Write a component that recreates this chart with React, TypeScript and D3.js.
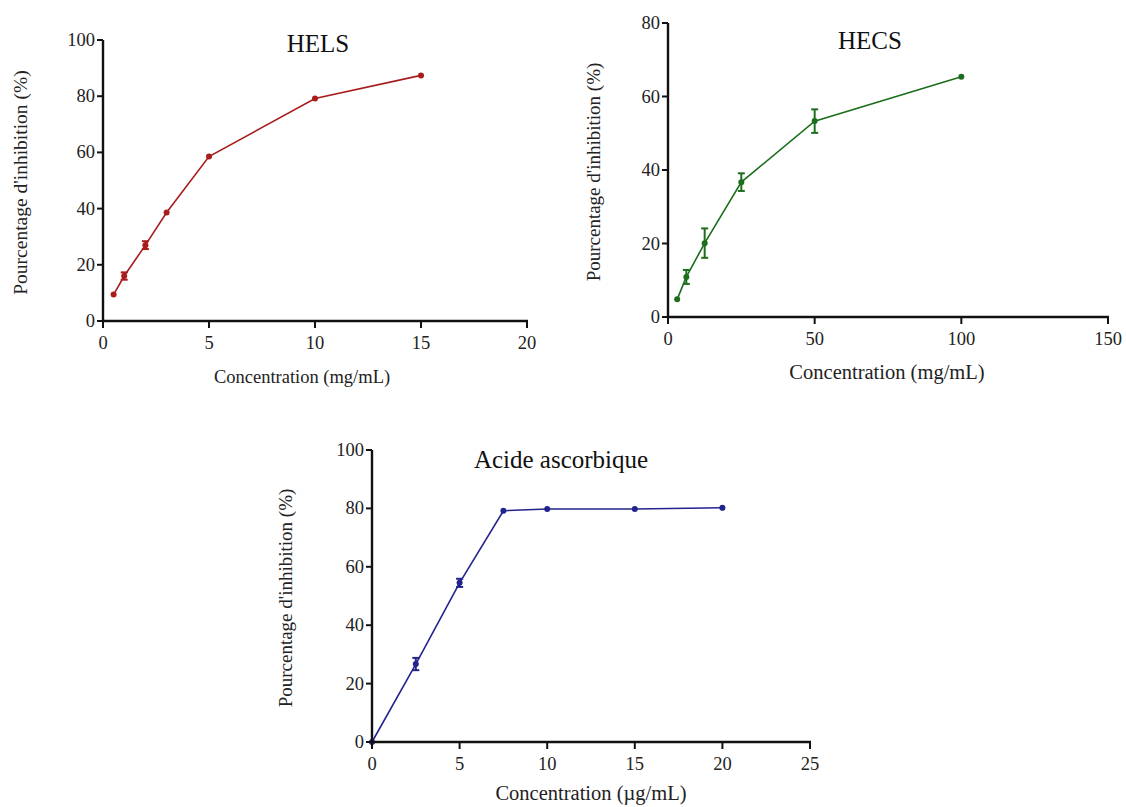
import React from "react";
import * as d3 from "d3";

// ---- data ----
const helsX = [0.5, 1, 2, 3, 5, 10, 15];
const helsY = [9.4, 16.0, 27.0, 38.6, 58.5, 79.2, 87.4];
const helsErr = [0, 1.3, 1.4, 0, 0, 0, 0];

const hecsX = [3.125, 6.25, 12.5, 25, 50, 100];
const hecsY = [4.8, 10.9, 20.1, 36.7, 53.3, 65.4];
const hecsErr = [0, 1.9, 4.0, 2.4, 3.2, 0];

const aaX = [0, 2.5, 5, 7.5, 10, 15, 20];
const aaY = [0, 26.7, 54.5, 79.2, 79.8, 79.8, 80.2];
const aaErr = [0, 2.1, 1.4, 0, 0, 0, 0];

const helsXTicks = [0, 5, 10, 15, 20];
const hecsXTicks = [0, 50, 100, 150];
const aaXTicks = [0, 5, 10, 15, 20, 25];
const pctTicks100 = [0, 20, 40, 60, 80, 100];
const pctTicks80 = [0, 20, 40, 60, 80];

const yTitle = "Pourcentage d'inhibition (%)";
const mgTitle = "Concentration (mg/mL)";
const ugTitle = "Concentration (µg/mL)";

const FONT = "'Liberation Serif', 'Times New Roman', serif";

type PanelProps = {
  title: string;
  xs: number[];
  ys: number[];
  errs: number[];
  xTicks: number[];
  yTicks: number[];
  xTitle: string;
  color: string;
  left: number;
  right: number;
  top: number;
  bottom: number;
  titleX: number;
  titleY: number;
  yTitleX: number;
  xTitleX: number;
  xTitleY: number;
  xTitleSize: number;
  yTitleSize: number;
};

function Panel(p: PanelProps) {
  const x = d3
    .scaleLinear()
    .domain([p.xTicks[0], p.xTicks[p.xTicks.length - 1]])
    .range([p.left, p.right]);
  const y = d3
    .scaleLinear()
    .domain([p.yTicks[0], p.yTicks[p.yTicks.length - 1]])
    .range([p.bottom, p.top]);
  const pts = p.xs.map((v, i) => [v, p.ys[i]] as [number, number]);
  const line = d3
    .line<[number, number]>()
    .x((d) => x(d[0]))
    .y((d) => y(d[1]));
  const axisColor = "#111";
  return (
    <g>
      <path d={line(pts) || ""} fill="none" stroke={p.color} strokeWidth={1.6} />
      {pts.map((d, i) =>
        p.errs[i] > 0 ? (
          <g key={"e" + i} stroke={p.color} strokeWidth={2}>
            <line x1={x(d[0])} x2={x(d[0])} y1={y(d[1] - p.errs[i])} y2={y(d[1] + p.errs[i])} />
            <line x1={x(d[0]) - 3.5} x2={x(d[0]) + 3.5} y1={y(d[1] - p.errs[i])} y2={y(d[1] - p.errs[i])} />
            <line x1={x(d[0]) - 3.5} x2={x(d[0]) + 3.5} y1={y(d[1] + p.errs[i])} y2={y(d[1] + p.errs[i])} />
          </g>
        ) : null
      )}
      {pts.map((d, i) => (
        <circle key={"c" + i} cx={x(d[0])} cy={y(d[1])} r={3} fill={p.color} />
      ))}
      {/* axes */}
      <line x1={p.left} x2={p.left} y1={p.top} y2={p.bottom + 1} stroke={axisColor} strokeWidth={2.4} />
      <line x1={p.left - 1} x2={p.right + 1} y1={p.bottom} y2={p.bottom} stroke={axisColor} strokeWidth={2.4} />
      {p.yTicks.map((t) => (
        <g key={"yt" + t}>
          <line x1={p.left - 6} x2={p.left} y1={y(t)} y2={y(t)} stroke={axisColor} strokeWidth={2} />
          <text
            x={p.left - 8}
            y={y(t)}
            textAnchor="end"
            dominantBaseline="central"
            fontFamily={FONT}
            fontSize={18.5}
            fill="#222"
          >
            {t}
          </text>
        </g>
      ))}
      {p.xTicks.map((t) => (
        <g key={"xt" + t}>
          <line x1={x(t)} x2={x(t)} y1={p.bottom} y2={p.bottom + 7} stroke={axisColor} strokeWidth={2} />
          <text
            x={x(t)}
            y={p.bottom + 22}
            textAnchor="middle"
            dominantBaseline="central"
            fontFamily={FONT}
            fontSize={18.5}
            fill="#222"
          >
            {t}
          </text>
        </g>
      ))}
      <text
        x={p.titleX}
        y={p.titleY}
        textAnchor="middle"
        dominantBaseline="central"
        fontFamily={FONT}
        fontSize={25}
        fill="#111"
      >
        {p.title}
      </text>
      <text
        x={p.xTitleX}
        y={p.xTitleY}
        textAnchor="middle"
        dominantBaseline="central"
        fontFamily={FONT}
        fontSize={p.xTitleSize}
        fill="#222"
      >
        {p.xTitle}
      </text>
      <text
        transform={`translate(${p.yTitleX},${(p.top + p.bottom) / 2 + 2}) rotate(-90)`}
        textAnchor="middle"
        dominantBaseline="central"
        fontFamily={FONT}
        fontSize={p.yTitleSize}
        fill="#222"
      >
        {yTitle}
      </text>
    </g>
  );
}

export default function App() {
  return (
    <svg
      width={1126}
      height={807}
      style={{ position: "absolute", left: 0, top: 0, background: "#fff" }}
    >
      <rect width={1126} height={807} fill="#fff" />
      <Panel
        title="HELS"
        xs={helsX}
        ys={helsY}
        errs={helsErr}
        xTicks={helsXTicks}
        yTicks={pctTicks100}
        xTitle={mgTitle}
        color="#a81c1c"
        left={103}
        right={527}
        top={40}
        bottom={321}
        titleX={318}
        titleY={43}
        yTitleX={20}
        xTitleX={302}
        xTitleY={377}
        xTitleSize={18.5}
        yTitleSize={19.5}
      />
      <Panel
        title="HECS"
        xs={hecsX}
        ys={hecsY}
        errs={hecsErr}
        xTicks={hecsXTicks}
        yTicks={pctTicks80}
        xTitle={mgTitle}
        color="#1c6e1c"
        left={668}
        right={1108}
        top={23}
        bottom={317}
        titleX={870}
        titleY={40}
        yTitleX={593}
        xTitleX={887}
        xTitleY={372}
        xTitleSize={20.5}
        yTitleSize={19}
      />
      <Panel
        title="Acide ascorbique"
        xs={aaX}
        ys={aaY}
        errs={aaErr}
        xTicks={aaXTicks}
        yTicks={pctTicks100}
        xTitle={ugTitle}
        color="#23238f"
        left={372}
        right={810}
        top={450}
        bottom={742}
        titleX={561}
        titleY={459}
        yTitleX={285}
        xTitleX={591}
        xTitleY={793}
        xTitleSize={20.5}
        yTitleSize={19}
      />
    </svg>
  );
}
